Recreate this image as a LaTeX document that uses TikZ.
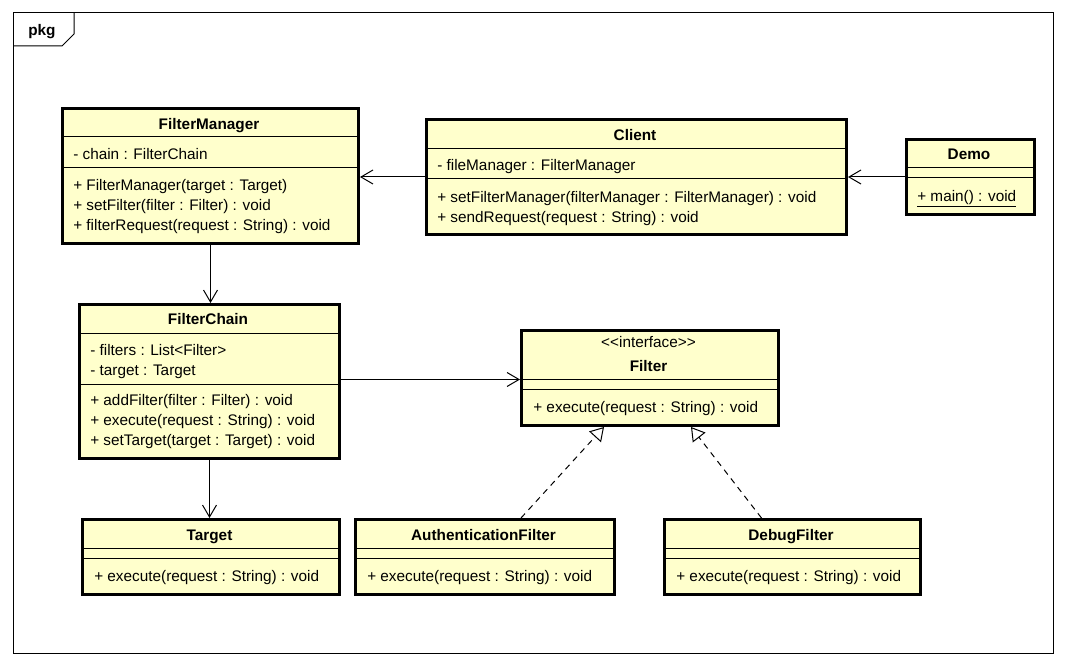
\documentclass[tikz,border=0pt]{standalone}
\usepackage{fontspec}
\setmainfont{Liberation Sans}
\usetikzlibrary{arrows.meta,calc}

\definecolor{classfill}{RGB}{255,255,204}
\tikzset{
  classbox/.style={draw, line width=2.25pt, fill=classfill, inner sep=0pt, anchor=north west},
  sep/.style={line width=0.75pt},
  member/.style={anchor=base west, inner sep=0pt, font=\fontsize{11.5}{13}\selectfont},
  cname/.style={anchor=base, inner sep=0pt, font=\fontsize{11.5}{13}\selectfont\bfseries},
  assoc/.style={line width=0.75pt, -{Straight Barb[length=9pt,width=10.5pt]}},
  realize/.style={line width=0.75pt, dash pattern=on 4.5pt off 3.75pt, -{Triangle[open,fill=white,length=10pt,width=12pt]}},
}

\begin{document}
\begin{tikzpicture}[x=0.75pt,y=0.75pt,yscale=-1,xscale=1]
\useasboundingbox (0,0) rectangle (1066,666);

%Shape: Frame [pkg]
\draw [line width=0.75pt] (13,13) rectangle (1053,653);
\draw [line width=0.75pt] (13,46) -- (62,46) -- (74,34) -- (74,13);
\node[cname, anchor=base west] (pkg) at (28,36) {pkg};

%Shape: Class [FilterManager]
\node[classbox, minimum width=222pt, minimum height=101.25pt] (fm) at (61,107) {};
\draw[sep] ($(fm.north west)+(0,30)$) -- ($(fm.north east)+(0,30)$);
\draw[sep] ($(fm.north west)+(0,61)$) -- ($(fm.north east)+(0,61)$);
\node[cname] (fm-name) at (209,129.5) {FilterManager};
\node[member] (fm-a1) at (73,159.5) {- chain : FilterChain};
\node[member] (fm-m1) at (73,190.5) {+ FilterManager(target : Target)};
\node[member] (fm-m2) at (73,210.5) {+ setFilter(filter : Filter) : void};
\node[member] (fm-m3) at (73,230.5) {+ filterRequest(request : String) : void};

%Shape: Class [Client]
\node[classbox, minimum width=315pt, minimum height=86.25pt] (client) at (425,118) {};
\draw[sep] ($(client.north west)+(0,31)$) -- ($(client.north east)+(0,31)$);
\draw[sep] ($(client.north west)+(0,61)$) -- ($(client.north east)+(0,61)$);
\node[cname] (client-name) at (635,140.5) {Client};
\node[member] (client-a1) at (437,170.5) {- fileManager : FilterManager};
\node[member] (client-m1) at (437,202.5) {+ setFilterManager(filterManager : FilterManager) : void};
\node[member] (client-m2) at (437,222.5) {+ sendRequest(request : String) : void};

%Shape: Class [Demo]
\node[classbox, minimum width=96pt, minimum height=56.25pt] (demo) at (905,138) {};
\draw[sep] ($(demo.north west)+(0,30)$) -- ($(demo.north east)+(0,30)$);
\draw[sep] ($(demo.north west)+(0,40)$) -- ($(demo.north east)+(0,40)$);
\node[cname] (demo-name) at (969,159.5) {Demo};
\node[member] (demo-m1) at (917,201.5) {\underline{+ main() : void}};

%Shape: Class [FilterChain]
\node[classbox, minimum width=195pt, minimum height=115.5pt] (chain) at (78,303) {};
\draw[sep] ($(chain.north west)+(0,30)$) -- ($(chain.north east)+(0,30)$);
\draw[sep] ($(chain.north west)+(0,81)$) -- ($(chain.north east)+(0,81)$);
\node[cname] (chain-name) at (208,324.5) {FilterChain};
\node[member] (chain-a1) at (90,355.5) {- filters : List<Filter>};
\node[member] (chain-a2) at (90,375.5) {- target : Target};
\node[member] (chain-m1) at (90,405.5) {+ addFilter(filter : Filter) : void};
\node[member] (chain-m2) at (90,425.5) {+ execute(request : String) : void};
\node[member] (chain-m3) at (90,445.5) {+ setTarget(target : Target) : void};

%Shape: Interface [Filter]
\node[classbox, minimum width=192.75pt, minimum height=71.25pt] (filter) at (520,329) {};
\draw[sep] ($(filter.north west)+(0,50)$) -- ($(filter.north east)+(0,50)$);
\draw[sep] ($(filter.north west)+(0,60)$) -- ($(filter.north east)+(0,60)$);
\node[cname, font=\fontsize{11.5}{13}\selectfont] (filter-st) at (648.5,347.5) {<{}<interface>{}>};
\node[cname] (filter-name) at (648.5,371.5) {Filter};
\node[member] (filter-m1) at (533,412.5) {+ execute(request : String) : void};

%Shape: Class [Target]
\node[classbox, minimum width=192.75pt, minimum height=56.25pt] (target) at (81,518) {};
\draw[sep] ($(target.north west)+(0,30)$) -- ($(target.north east)+(0,30)$);
\draw[sep] ($(target.north west)+(0,40)$) -- ($(target.north east)+(0,40)$);
\node[cname] (target-name) at (209.5,540.5) {Target};
\node[member] (target-m1) at (94,581.5) {+ execute(request : String) : void};

%Shape: Class [AuthenticationFilter]
\node[classbox, minimum width=194.25pt, minimum height=56.25pt] (auth) at (354,518) {};
\draw[sep] ($(auth.north west)+(0,30)$) -- ($(auth.north east)+(0,30)$);
\draw[sep] ($(auth.north west)+(0,40)$) -- ($(auth.north east)+(0,40)$);
\node[cname] (auth-name) at (483.5,540.5) {AuthenticationFilter};
\node[member] (auth-m1) at (367,581.5) {+ execute(request : String) : void};

%Shape: Class [DebugFilter]
\node[classbox, minimum width=192pt, minimum height=56.25pt] (debug) at (663,518) {};
\draw[sep] ($(debug.north west)+(0,30)$) -- ($(debug.north east)+(0,30)$);
\draw[sep] ($(debug.north west)+(0,40)$) -- ($(debug.north east)+(0,40)$);
\node[cname] (debug-name) at (791,540.5) {DebugFilter};
\node[member] (debug-m1) at (676,581.5) {+ execute(request : String) : void};

%Straight Lines [associations]
\draw[assoc] (client.west) -- (client.west -| fm.east);
\draw[assoc] (demo.west) -- (demo.west -| client.east);
\draw[assoc] (fm.south) -- (fm.south |- chain.north);
\draw[assoc] ($(chain.east)+(0,-2)$) -- ($(filter.west)+(0,1.5)$);
\draw[assoc] (chain.south) -- (chain.south |- target.north);

%Straight Lines [realizations]
\draw[realize] ($(auth.north)+(36,0)$) -- ($(filter.south)+(-46,0)$);
\draw[realize] ($(debug.north)+(-31,0)$) -- ($(filter.south)+(41,0)$);

\end{tikzpicture}
\end{document}
